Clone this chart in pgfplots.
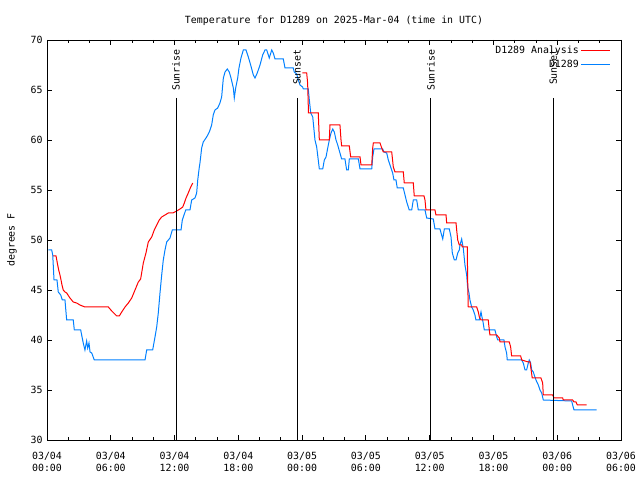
\documentclass[border=0pt]{standalone}
\usepackage{pgfplots}
\pgfplotsset{compat=1.18}
\usepackage{fontspec}
\setmainfont{DejaVu Sans Mono}
\definecolor{gred}{RGB}{255,0,0}
\definecolor{gblue}{RGB}{0,128,255}
\begin{document}
\begin{tikzpicture}[font=\fontsize{9.9bp}{12bp}\selectfont]
\useasboundingbox (0,0) rectangle (640bp,480bp);
\begin{axis}[
  at={(47bp,40bp)}, anchor=south west,
  scale only axis, width=574bp, height=400bp,
  xmin=0, xmax=54, ymin=30, ymax=70,
  xtick={0,6,...,54},
  xticklabels={{03/04\\00:00},{03/04\\06:00},{03/04\\12:00},{03/04\\18:00},{03/05\\00:00},{03/05\\06:00},{03/05\\12:00},{03/05\\18:00},{03/06\\00:00},{03/06\\06:00}},
  xticklabel style={align=center, yshift=-9bp},
  minor x tick num=2,
  ytick={30,35,...,70},
  yticklabel style={xshift=-1bp},
  /pgf/number format/assume math mode=true,
  tick align=inside,
  major tick length=5bp, minor tick length=3bp,
  every tick/.style={black, line width=0.8bp},
  axis line style={line width=0.9bp},
  title={Temperature for D1289 on 2025-Mar-04 (time in UTC)},
  title style={yshift=5bp},
  ylabel={degrees F},
  ylabel style={at={(axis description cs:-0.061,0.5)}, anchor=center},
  legend plot pos=right,
  legend cell align=right,
  legend style={draw=none, fill=none, at={(axis description cs:1,1)}, anchor=north east, xshift=-9bp, yshift=-3bp, row sep=0.5bp, inner sep=1bp},
  legend image code/.code={\draw[#1] (0bp,0bp) -- (29bp,0bp);},
]
\addplot[gred, line width=1bp] coordinates {
(0.54,48.4)(0.85,48.4)(0.97,47.7)(1.10,47.0)(1.22,46.5)(1.32,46.0)(1.41,45.5)(1.53,45.0)(1.69,44.8)(1.85,44.7)(2.16,44.2)(2.47,43.8)(2.79,43.7)(3.10,43.5)(3.57,43.3)(5.77,43.3)(6.09,42.9)(6.56,42.4)(6.80,42.4)(7.03,42.8)(7.34,43.3)(7.65,43.7)(7.97,44.2)(8.28,45.0)(8.59,45.8)(8.81,46.1)(9.06,47.7)(9.31,48.7)(9.53,49.8)(9.85,50.3)(10.09,51.0)(10.32,51.5)(10.56,52.0)(10.79,52.3)(11.10,52.5)(11.41,52.7)(11.83,52.7)(12.20,52.9)(12.51,53.1)(12.77,53.3)(12.92,53.7)(13.08,54.2)(13.29,54.7)(13.52,55.3)(13.71,55.7)
};
\addlegendentry{D1289 Analysis}
\addplot[gblue, line width=1bp] coordinates {
(0.12,49.0)(0.44,49.0)(0.54,48.5)(0.66,46.0)(0.94,46.0)(1.06,44.8)(1.29,44.5)(1.44,44.0)(1.69,44.0)(1.85,42.0)(2.47,42.0)(2.57,41.0)(3.17,41.0)(3.26,40.5)(3.41,39.7)(3.57,39.0)(3.73,39.9)(3.83,39.2)(3.95,39.7)(4.05,38.8)(4.21,38.7)(4.45,38.0)(9.22,38.0)(9.38,39.0)(9.94,39.0)(10.16,40.3)(10.32,41.3)(10.47,42.7)(10.63,44.7)(10.79,46.5)(10.94,48.0)(11.10,49.0)(11.26,49.8)(11.57,50.2)(11.79,51.0)(12.61,51.0)(12.73,52.0)(13.05,53.0)(13.45,53.0)(13.61,54.0)(13.92,54.2)(14.08,54.7)(14.18,56.0)(14.33,57.3)(14.39,57.7)(14.55,59.2)(14.70,59.8)(15.02,60.3)(15.27,60.8)(15.49,61.5)(15.64,62.5)(15.80,63.0)(16.06,63.2)(16.27,63.7)(16.43,64.3)(16.59,66.2)(16.75,66.8)(16.96,67.1)(17.15,66.8)(17.31,66.2)(17.53,65.2)(17.62,64.2)(17.75,65.2)(17.94,66.2)(18.06,67.2)(18.25,68.2)(18.47,69.0)(18.72,69.0)(18.94,68.3)(19.16,67.5)(19.41,66.5)(19.57,66.2)(19.78,66.7)(20.04,67.5)(20.29,68.5)(20.51,69.0)(20.67,69.0)(20.91,68.2)(21.14,69.0)(21.29,68.7)(21.45,68.1)(22.23,68.1)(22.39,67.2)(23.17,67.2)(23.26,66.8)(23.49,66.6)(23.64,66.0)(23.80,65.5)(24.05,65.3)(24.11,65.1)(24.58,65.1)(24.68,64.0)(24.81,62.7)(25.00,62.3)(25.12,61.0)(25.21,60.0)(25.37,59.3)(25.52,58.0)(25.62,57.1)(25.94,57.1)(26.09,58.0)(26.25,58.3)(26.41,59.2)(26.56,60.0)(26.72,60.7)(26.88,61.1)(27.03,60.8)(27.19,60.0)(27.35,59.5)(27.56,58.7)(27.72,58.1)(28.03,58.1)(28.19,57.0)(28.35,57.0)(28.44,58.1)(29.29,58.1)(29.45,57.1)(30.55,57.1)(30.64,58.3)(30.76,59.1)(31.58,59.1)(31.70,58.8)(31.96,58.7)(32.11,58.0)(32.27,57.5)(32.52,56.7)(32.64,56.0)(32.83,56.0)(32.95,55.2)(33.52,55.2)(33.68,54.5)(33.84,53.8)(34.08,53.0)(34.31,53.0)(34.46,54.0)(34.78,54.0)(34.93,53.0)(35.56,53.0)(35.72,52.2)(36.34,52.1)(36.50,51.1)(36.97,51.1)(37.07,50.7)(37.23,50.1)(37.38,51.1)(37.85,51.1)(38.01,50.3)(38.13,48.7)(38.32,48.0)(38.48,48.0)(38.64,48.7)(38.79,49.0)(38.85,49.5)(39.01,50.1)(39.16,49.2)(39.32,47.5)(39.48,46.5)(39.57,45.3)(39.70,44.7)(39.79,44.0)(39.95,43.3)(40.10,43.0)(40.26,42.5)(40.35,42.0)(40.67,42.0)(40.83,42.8)(40.92,42.3)(41.02,41.8)(41.14,41.0)(42.14,41.0)(42.31,40.3)(42.40,40.0)(42.99,40.0)(43.09,39.3)(43.24,38.7)(43.30,38.0)(44.66,38.0)(44.81,37.7)(44.97,37.0)(45.12,37.0)(45.28,37.7)(45.37,38.0)(45.50,37.7)(45.60,37.0)(45.75,36.8)(45.84,36.5)(46.00,36.0)(46.22,35.5)(46.38,35.0)(46.54,34.7)(46.69,34.0)(49.36,33.9)(49.45,33.5)(49.58,33.0)(51.71,33.0)
};
\addlegendentry{D1289}
\addplot[gred, line width=1bp, forget plot] coordinates {
(24.03,66.7)(24.43,66.7)(24.52,65.7)(24.60,62.7)(25.52,62.7)(25.62,60.0)(26.56,60.0)(26.62,61.5)(27.56,61.5)(27.66,60.0)(27.72,59.4)(28.44,59.4)(28.57,58.3)(29.45,58.3)(29.54,57.5)(30.55,57.5)(30.64,59.2)(30.70,59.7)(31.33,59.7)(31.49,59.2)(31.64,58.8)(32.43,58.8)(32.58,57.3)(32.74,56.8)(33.52,56.8)(33.61,55.7)(34.46,55.7)(34.55,54.4)(35.47,54.4)(35.56,54.0)(35.65,53.0)(36.50,53.0)(36.59,52.5)(37.54,52.5)(37.60,51.7)(38.48,51.7)(38.54,51.0)(38.64,50.0)(38.79,49.5)(39.01,49.5)(39.07,49.3)(39.54,49.3)(39.57,46.3)(39.63,43.3)(40.42,43.3)(40.58,42.8)(40.67,42.3)(40.83,42.0)(41.51,42.0)(41.61,41.0)(41.67,40.5)(42.31,40.5)(42.55,40.2)(42.62,39.8)(43.49,39.8)(43.62,39.3)(43.71,38.4)(44.56,38.4)(44.66,38.0)(45.28,37.8)(45.44,37.8)(45.65,36.2)(46.47,36.2)(46.63,35.7)(46.69,34.5)(47.57,34.5)(47.70,34.2)(48.51,34.2)(48.57,34.0)(49.45,34.0)(49.58,33.8)(49.77,33.8)(49.89,33.5)(50.77,33.5)
};
\addplot[black, line width=1bp, forget plot] coordinates {(12.14,64.2) (12.14,30)};
\addplot[black, line width=1bp, forget plot] coordinates {(23.53,64.2) (23.53,30)};
\addplot[black, line width=1bp, forget plot] coordinates {(36.12,64.2) (36.12,30)};
\addplot[black, line width=1bp, forget plot] coordinates {(47.62,64.2) (47.62,30)};
\node[rotate=90, anchor=east, inner sep=0pt] at (axis cs:12.14,69.1) {Sunrise};
\node[rotate=90, anchor=east, inner sep=0pt] at (axis cs:23.53,69.1) {Sunset};
\node[rotate=90, anchor=east, inner sep=0pt] at (axis cs:36.12,69.1) {Sunrise};
\node[rotate=90, anchor=east, inner sep=0pt] at (axis cs:47.62,69.1) {Sunset};
\end{axis}
\end{tikzpicture}
\end{document}
